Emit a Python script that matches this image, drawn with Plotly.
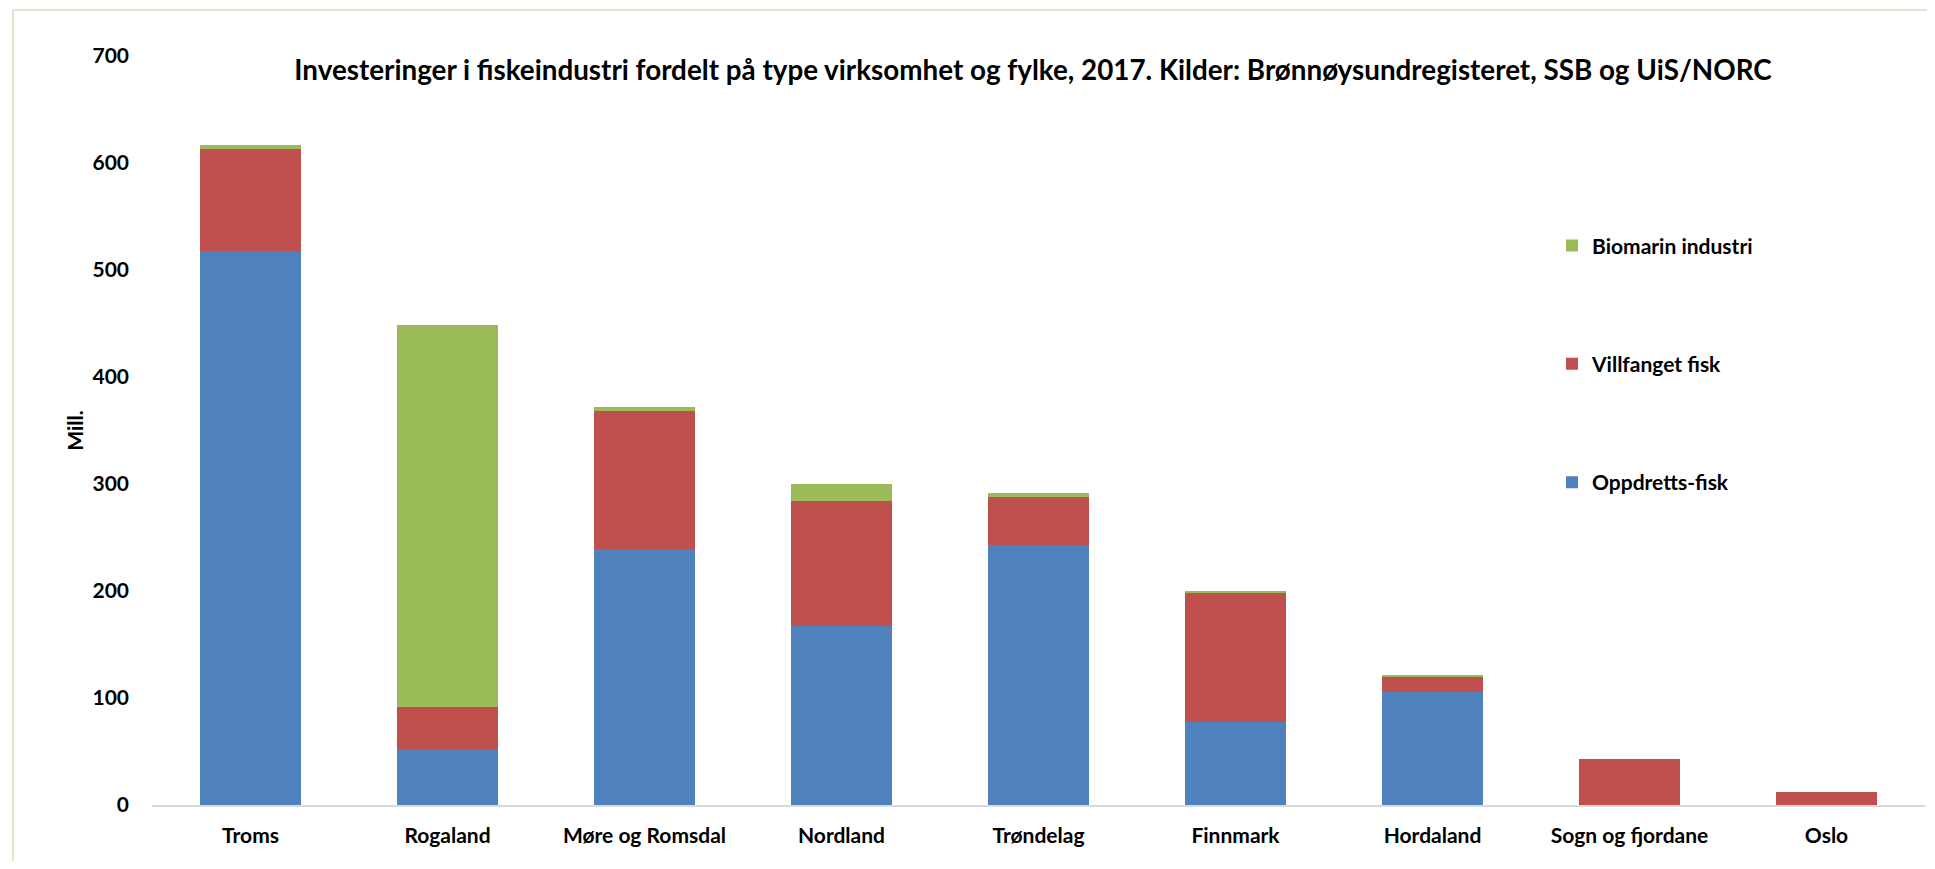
import plotly.graph_objects as go

categories = ["Troms", "Rogaland", "Møre og Romsdal", "Nordland", "Trøndelag",
              "Finnmark", "Hordaland", "Sogn og fjordane", "Oslo"]
oppdrett = [518, 52, 239, 167, 243, 78, 106, 0, 0]
villfanget = [95, 40, 129, 117, 45, 121, 14, 43, 12.5]
biomarin = [4, 357, 4, 16, 3.5, 1, 0.8, 0, 0]
y_ticks = [0, 100, 200, 300, 400, 500, 600, 700]

OFF = 8                      # default page body margin
W, H = 1935 - 2 * OFF, 869 - 2 * OFF
# plot area in page pixels: x 152..1925, y 55.5..805
ML = 152 - OFF
MR = W - (1925 - OFF)
MT = 55.5 - OFF
MB = H - (805 - OFF)
FONT = "Lato, 'Open Sans', sans-serif"

fig = go.Figure()
fig.add_bar(x=categories, y=oppdrett, name="Oppdretts-fisk",
            marker_color="#4F81BD", legendgroup="a", legendrank=3)
fig.add_bar(x=categories, y=villfanget, name="Villfanget fisk",
            marker_color="#C0504D", legendgroup="b", legendrank=2)
fig.add_bar(x=categories, y=biomarin, name="Biomarin industri",
            marker_color="#9BBB59", legendgroup="c", legendrank=1)
fig.update_traces(marker_line_width=0)

pw = W - ML - MR
ph = H - MT - MB

def px_x(p):
    return (p - OFF - ML) / pw

def px_y(p):
    return (H - MB - (p - OFF)) / ph

fig.update_layout(
    width=W, height=H,
    barmode="stack", bargap=0.49,
    margin=dict(l=ML, r=MR, t=MT, b=MB, pad=0),
    paper_bgcolor="white", plot_bgcolor="white",
    font=dict(family=FONT, size=21, color="black", weight="bold"),
    title=dict(text="Investeringer i fiskeindustri fordelt på type virksomhet og fylke, 2017. Kilder: Brønnøysundregisteret, SSB og UiS/NORC",
               x=(1033 - OFF) / W, xanchor="center", xref="container",
               y=1 - (70 - OFF) / H, yanchor="middle", yref="container",
               font=dict(family=FONT, size=27.8, color="black", weight="bold")),
    xaxis=dict(showline=True, linecolor="#d9d9d9", linewidth=2, showgrid=False,
               ticks="", ticklabelstandoff=11, tickfont=dict(size=21)),
    yaxis=dict(range=[0, 700], tickvals=y_ticks, showgrid=False, zeroline=False,
               showline=False, ticks="", ticklabelstandoff=22,
               tickfont=dict(size=21),
               title=dict(text="Mill.", font=dict(size=21), standoff=3)),
    legend=dict(traceorder="grouped", tracegroupgap=88,
                x=px_x(1552), xanchor="left", y=px_y(225), yanchor="top",
                bgcolor="rgba(0,0,0,0)", font=dict(size=21)),
    shapes=[
        dict(type="line", xref="paper", yref="paper",
             x0=px_x(13), x1=px_x(1935 + 20), y0=px_y(9.5), y1=px_y(9.5),
             line=dict(color="#e6e2cc", width=2)),
        dict(type="line", xref="paper", yref="paper",
             x0=px_x(13), x1=px_x(13), y0=px_y(9.5), y1=px_y(869 + 20),
             line=dict(color="#e6e2cc", width=2)),
    ],
)

fig.write_html("out.html")
